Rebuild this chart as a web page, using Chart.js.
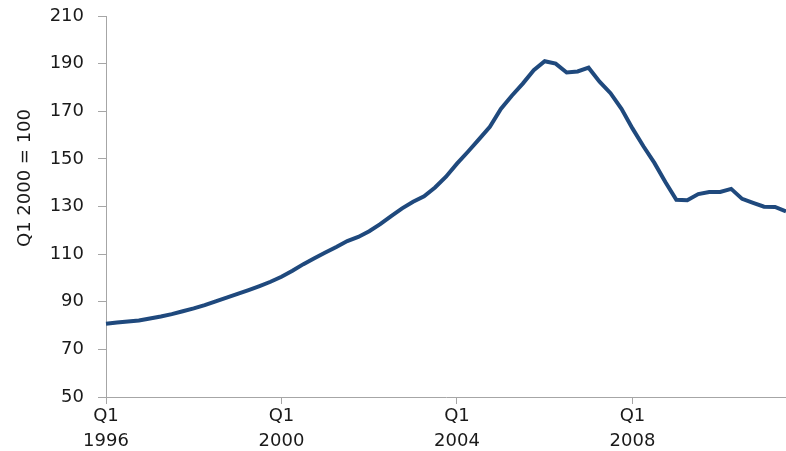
<!DOCTYPE html>
<html lang="en">

<head>
  <meta charset="UTF-8">
  <title>House price index</title>
  <script src="https://cdn.jsdelivr.net/npm/chart.js"></script>
  <style>
    html, body { margin: 0; padding: 0; background: #fff; }
    .wrap { width: 786px; height: 451px; position: relative; }
  </style>
</head>

<body>
  <div class="wrap">
    <canvas id="priceChart"></canvas>
  </div>
  <script>
    // quarters Q1 1996 .. Q3 2011
    const years = [1996, 1997, 1998, 1999, 2000, 2001, 2002, 2003, 2004, 2005, 2006, 2007, 2008, 2009, 2010, 2011];
    const quarters = [];
    years.forEach(y => {
      for (let q = 1; q <= 4; q++) quarters.push('Q' + q + ' ' + y);
    });
    quarters.length = 63;

    // index, Q1 2000 = 100
    const indexValues = [
      80.8, 81.3, 81.7, 82.1, 83.0, 83.8, 84.8, 86.0,
      87.2, 88.6, 90.2, 91.7, 93.3, 94.9, 96.6, 98.4,
      100.5, 103.0, 105.8, 108.3, 110.7, 113.0, 115.5, 117.2,
      119.6, 122.6, 126.0, 129.2, 132.0, 134.3, 138.0, 142.5,
      148.0, 153.0, 158.2, 163.5, 171.0, 176.5, 181.6, 187.2,
      191.0, 190.0, 186.3, 186.7, 188.3, 182.4, 177.6, 171.0,
      162.8, 155.3, 148.3, 140.3, 132.8, 132.6, 135.2, 136.1,
      136.1, 137.4, 133.2, 131.5, 129.9, 129.8, 127.9
    ];

    const yTicks = [50, 70, 90, 110, 130, 150, 170, 190, 210];
    const yTitle = 'Q1 2000 = 100';
    const labelEvery = 16;

    const axisColor = '#a6a6a6';
    const textColor = '#1a1a1a';
    const font = { family: 'DejaVu Sans', size: 18 };

    // y title sits a bit above the middle of the axis, like the original
    const yTitlePlugin = {
      id: 'yTitle',
      afterDraw(chart) {
        const c = chart.ctx;
        c.save();
        c.translate(25, 178);
        c.rotate(-Math.PI / 2);
        c.font = font.size + 'px "' + font.family + '"';
        c.fillStyle = textColor;
        c.textAlign = 'center';
        c.textBaseline = 'middle';
        c.fillText(yTitle, 0, 0);
        c.restore();
      }
    };

    const ctx = document.getElementById('priceChart').getContext('2d');

    new Chart(ctx, {
      type: 'line',
      data: {
        labels: quarters,
        datasets: [{
          data: indexValues,
          borderColor: '#1f497d',
          borderWidth: 4,
          pointRadius: 0,
          tension: 0,
          fill: false,
        }]
      },
      options: {
        responsive: true,
        maintainAspectRatio: false,
        animation: false,
        layout: { padding: { top: 16, right: 0, left: 0, bottom: 0 } },
        plugins: {
          legend: { display: false },
          tooltip: { enabled: false },
        },
        scales: {
          x: {
            type: 'category',
            offset: false,
            afterBuildTicks: (scale) => {
              scale.ticks = scale.ticks.filter(t => t.value % labelEvery === 0);
            },
            afterFit: (scale) => {
              scale.height = 54;
              scale.paddingLeft = 0;
              scale.paddingRight = 0;
            },
            border: { color: axisColor, width: 1 },
            grid: {
              drawOnChartArea: false,
              drawTicks: true,
              tickLength: 7,
              tickColor: axisColor,
            },
            ticks: {
              autoSkip: false,
              maxRotation: 0,
              padding: 0,
              color: textColor,
              font: { ...font, lineHeight: 1.39 },
              callback: function (value) {
                return this.getLabelForValue(value).split(' ');
              },
            },
          },
          y: {
            min: 50,
            max: 210,
            afterBuildTicks: (scale) => {
              scale.ticks = yTicks.map(v => ({ value: v }));
            },
            afterFit: (scale) => {
              scale.width = 106;
              scale.paddingTop = 0;
              scale.paddingBottom = 0;
            },
            border: { color: axisColor, width: 1 },
            grid: {
              drawOnChartArea: false,
              drawTicks: true,
              tickLength: 8,
              tickColor: axisColor,
            },
            ticks: {
              padding: 14,
              color: textColor,
              font: font,
            },
          },
        },
      },
      plugins: [yTitlePlugin],
    });
  </script>

</body>

</html>
